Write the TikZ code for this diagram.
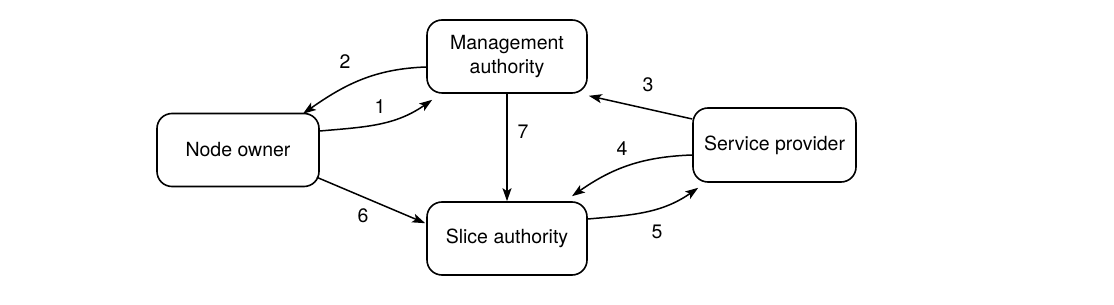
\documentclass[tikz,border=0pt]{standalone}
\usepackage{fontspec}
\setmainfont{TeX Gyre Heros}
\usetikzlibrary{arrows.meta,calc}
\begin{document}
\begin{tikzpicture}[x=1pt,y=1pt,
  every node/.style={font=\fontsize{19.5}{24}\selectfont},
  box/.style={draw, line width=1.6pt, rounded corners=15pt, minimum width=160pt, minimum height=73pt, align=center, inner sep=0pt},
  conn/.style={line width=1.5pt, -{Stealth[length=13pt,width=9pt,inset=3pt]}},
  lbl/.style={inner sep=0pt}]
\useasboundingbox (0,0) rectangle (1114,305);
\node[box] (ma) at (507,248.5) {Management\\authority};
\node[box, minimum width=162pt] (no) at (238,155) {Node owner};
\node[box] (sa) at (507,66.5) {Slice authority};
\node[box, minimum width=163pt, minimum height=74pt] (sp) at (774.5,160) {Service provider};
% 2: MA -> NO
\draw[conn] ($(ma.west)+(0,-10.5)$) to[out=182,in=35] ($(no.north)+(65,-1)$);
% 1: NO -> MA
\draw[conn] ($(no.east)+(0,19)$) to[out=5,in=215] ($(ma.south west)+(6,-6)$);
% 7: MA -> SA
\draw[conn] (ma.south) -- (sa.north);
% 3: SP -> MA
\draw[conn] ($(sp.west)+(0,26)$) -- ($(ma.south east)+(1,-2)$);
% 4: SP -> SA
\draw[conn] ($(sp.west)+(0,-10)$) to[out=182,in=35] ($(sa.north)+(65,5)$);
% 5: SA -> SP
\draw[conn] ($(sa.east)+(0,19.5)$) to[out=5,in=215] ($(sp.south west)+(6,-5)$);
% 6: NO -> SA
\draw[conn] ($(no.south east)+(-3,10)$) -- ($(sa.north west)+(-1,-22)$);
\node[lbl] (l2) at (345,243) {2};
\node[lbl] (l1) at (380,198) {1};
\node[lbl] (l7) at (523,173) {7};
\node[lbl] (l3) at (648,220) {3};
\node[lbl] (l4) at (622,156) {4};
\node[lbl] (l5) at (657,73) {5};
\node[lbl] (l6) at (363,89) {6};
\end{tikzpicture}
\end{document}
